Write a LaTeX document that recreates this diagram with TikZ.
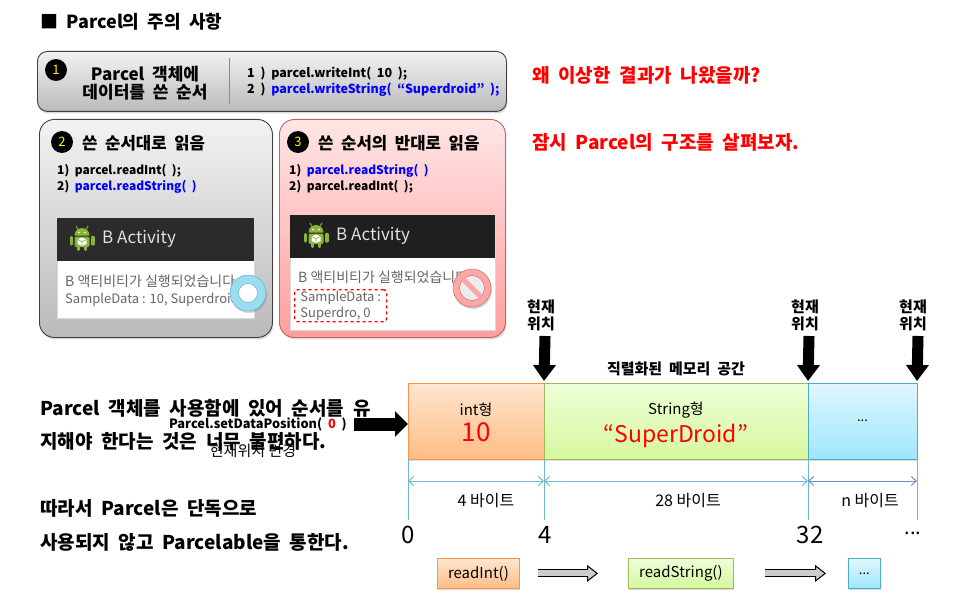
\documentclass[tikz,border=0pt]{standalone}
\usepackage{fontspec}
\setmainfont[BoldFeatures={WordSpace=2}]{Noto Sans CJK KR}
\usetikzlibrary{arrows.meta, positioning, shadows}
\definecolor{bluecode}{HTML}{0000FF}
\definecolor{panelline}{HTML}{404040}
\definecolor{pinkline}{HTML}{C8605C}
\definecolor{orangeline}{HTML}{F79646}
\definecolor{greenline}{HTML}{9BBB59}
\definecolor{skyline}{HTML}{4BACC6}
\definecolor{tickblue}{HTML}{6FBAD2}
\definecolor{slateblue}{HTML}{6F8FC4}
\definecolor{droidgreen}{HTML}{8DB33A}
\definecolor{orangetop}{HTML}{FFE5D0}
\definecolor{orangelow}{HTML}{FFBD85}
\definecolor{greentop}{HTML}{EEFFD8}
\definecolor{greenlow}{HTML}{D6F79E}
\definecolor{skytop}{HTML}{DFF6FF}
\definecolor{skylow}{HTML}{9FE6FB}
\definecolor{ringblue}{HTML}{9ADCF0}
\newcommand{\fsz}[2]{\fontsize{#1}{#2}\selectfont}

\tikzset{
	droid/.pic={
		\fill[droidgreen] (-7.5,-2.5) arc[start angle=180, end angle=360, radius=7.5] -- cycle;
		\fill[droidgreen, rounded corners=2pt] (-7.5,-1.5) rectangle (7.5,9);
		\draw[droidgreen, line width=3.4pt, line cap=round] (-10.8,-0.5) -- (-10.8,6);
		\draw[droidgreen, line width=3.4pt, line cap=round] (10.8,-0.5) -- (10.8,6);
		\draw[droidgreen, line width=3.2pt, line cap=round] (-3.2,9) -- (-3.2,11.5);
		\draw[droidgreen, line width=3.2pt, line cap=round] (3.2,9) -- (3.2,11.5);
		\draw[droidgreen, line width=.9pt] (-4,-8.5) -- (-6,-12);
		\draw[droidgreen, line width=.9pt] (4,-8.5) -- (6,-12);
		\fill[white] (-3,-5.5) circle (.9) (3,-5.5) circle (.9);
		\fill[white] (0,-.5) -- (4.5,1.5) -- (4.5,6) -- (0,8) -- (-4.5,6) -- (-4.5,1.5) -- cycle;
		\draw[droidgreen, line width=.7pt] (-4.5,1.5) -- (0,3.6) -- (4.5,1.5) (0,3.6) -- (0,8);
	}
}

\begin{document}
\begin{tikzpicture}[
		x=1pt, y=-1pt,
		font=\fsz{14}{17},
		panel/.style={draw=panelline, line width=.9pt, anchor=north west, top color=black!5, bottom color=black!27,
			drop shadow={shadow xshift=1pt, shadow yshift=-2pt, opacity=.3}},
		redpanel/.style={panel, draw=pinkline, top color=red!10, bottom color=red!38},
		badge/.style={circle, fill=black, text=yellow, minimum size=22pt, inner sep=0pt, font=\fsz{13}{13}},
		head/.style={anchor=west, inner sep=0pt, font=\fsz{16.7}{20}\bfseries},
		code/.style={anchor=north west, inner sep=0pt, align=left, font=\fsz{12}{16}\bfseries},
		screen/.style={anchor=north west, fill=white, draw=black!15, inner sep=0pt, minimum width=#1},
		bar/.style={anchor=north west, inner sep=0pt, minimum width=#1, text=black!12, font=\fsz{17}{20}},
		msg/.style={anchor=west, inner sep=0pt, text=black!60, font=\fsz{13}{16}},
		redtext/.style={anchor=west, inner sep=0pt, text=red, font=\fsz{19}{22}\bfseries},
		lefttext/.style={anchor=west, inner sep=0pt, font=\fsz{19}{22}\bfseries},
		cell/.style={anchor=north west, outer sep=0pt, inner sep=0pt, align=center, minimum height=76pt,
			line width=.8pt, drop shadow={shadow xshift=0pt, shadow yshift=-2pt, opacity=.25}},
		orangecell/.style={draw=orangeline, top color=orangetop, bottom color=orangelow},
		greencell/.style={draw=greenline, top color=greentop, bottom color=greenlow},
		skycell/.style={draw=skyline, top color=skytop, bottom color=skylow},
		poslabel/.style={align=center, inner sep=0pt, font=\fsz{15}{17}\bfseries},
		posarrow/.style={line width=11pt, -{Triangle[length=16pt, width=22pt]}},
		tick/.style={line width=1pt, tickblue},
		dim/.style={{Straight Barb[length=5pt, width=9pt]}-{Straight Barb[length=5pt, width=9pt]}, line width=1pt, tickblue},
		dimtext/.style={inner sep=0pt, font=\fsz{16}{18}},
		offset/.style={inner sep=0pt, font=\fsz{24}{28}},
		readbox/.style={anchor=north west, inner sep=0pt, minimum height=30pt, line width=.8pt, font=\fsz{15}{18},
			drop shadow={shadow xshift=1pt, shadow yshift=-2pt, opacity=.3}},
		nextarrow/.style={line width=8pt, black, -{Triangle[length=11pt, width=17pt, fill=black!20, line width=1pt]},
			postaction={draw=black!20, line width=6pt, shorten >=6pt, -}}
	]
	\useasboundingbox (0,0) rectangle (957,604);

	\node[anchor=west, inner sep=0pt, font=\fsz{18}{22}\bfseries] (title) at (40,22) {■ Parcel의 주의 사항};

	% write order
	\node[panel, rounded corners=10pt, minimum width=469pt, minimum height=60pt] (writebox) at (37,51) {};
	\node[badge] (numone) at (56,70) {1};
	\node[align=center, inner sep=0pt, font=\fsz{17}{18}\bfseries] (writehead) at (145,83) {Parcel 객체에\\데이터를 쓴 순서};
	\draw[line width=.9pt, slateblue] (229,58) coordinate (divtop) -- (229,104) coordinate (divend);
	\node[code, font=\fsz{12.5}{16}\bfseries] (writecode) at (247,67) {1 ) parcel.writeInt( 10 );\\2 ) \textcolor{bluecode}{parcel.writeString( “Superdroid” );}};

	% same order
	\node[panel, rounded corners=15pt, minimum width=233pt, minimum height=218pt] (samebox) at (39,119) {};
	\node[badge] (numtwo) at (62,142) {2};
	\node[head] (samehead) at (82,143) {쓴 순서대로 읽음};
	\node[code] (samecode) at (57,164) {1) parcel.readInt( );\\2) \textcolor{bluecode}{parcel.readString( )}};
	\node[screen=197pt, minimum height=100pt] (samescreen) at (57,218) {};
	\node[bar=197pt, minimum height=43pt, fill=black!83] (samebar) at (57,218) {};
	\pic (samedroid) at (82,238) {droid};
	\node[anchor=west, inner sep=0pt, text=black!12, font=\fsz{17}{20}] (sametitle) at (102,239) {B Activity};
	\node[msg, font=\fsz{14}{16}] (samemsg) at (65,281) {B 액티비티가 실행되었습니다};
	\node[msg] (samedata) at (65,300) {SampleData : 10, Superdroid};
	\node[circle, minimum size=36pt, inner sep=0pt, draw=skyline, fill=ringblue,
		drop shadow={shadow xshift=1pt, shadow yshift=-2pt, opacity=.35}] (okmark) at (248,293) {};
	\node[circle, minimum size=19pt, inner sep=0pt, draw=skyline, fill=white] (okhole) at (okmark) {};

	% reverse order
	\node[redpanel, rounded corners=15pt, minimum width=226pt, minimum height=218pt] (revbox) at (279,119) {};
	\node[badge] (numthree) at (298,142) {3};
	\node[head] (revhead) at (318,143) {쓴 순서의 반대로 읽음};
	\node[code] (revcode) at (289,164) {1) \textcolor{bluecode}{parcel.readString( )}\\2) parcel.readInt( );};
	\node[screen=205pt, minimum height=115pt] (revscreen) at (290,215) {};
	\node[bar=205pt, minimum height=43pt, fill=black!88] (revbar) at (290,215) {};
	\pic (revdroid) at (316,235) {droid};
	\node[anchor=west, inner sep=0pt, text=black!12, font=\fsz{17}{20}] (revtitle) at (336,236) {B Activity};
	\node[msg, font=\fsz{14}{16}] (revmsg) at (298,277) {B 액티비티가 실행되었습니다.};
	\node[anchor=north west, draw=red, dashed, line width=1.4pt, rounded corners=3pt, minimum width=92pt, minimum height=32pt,
		inner xsep=2pt, inner ysep=0pt, align=left, text=black!60, font=\fsz{13}{16}] (revdata) at (294,289) {SampleData :\\Superdro, 0};
	\node[circle, minimum size=38pt, inner sep=0pt, draw=pinkline, fill=red!35,
		drop shadow={shadow xshift=1pt, shadow yshift=-2pt, opacity=.35}] (nomark) at (472,288) {};
	\node[circle, minimum size=25pt, inner sep=0pt, draw=pinkline, fill=black!7] (nohole) at (nomark) {};
	\draw[line width=5pt, red!35] (nohole.135) -- (nohole.-45);

	\node[redtext] (whytext) at (532,75) {왜 이상한 결과가 나왔을까?};
	\node[redtext] (looktext) at (532,142) {잠시 Parcel의 구조를 살펴보자.};

	% left notes
	\node[lefttext] (noteone) at (40,408) {Parcel 객체를 사용함에 있어 순서를 유};
	\node[lefttext] (notetwo) at (40,441) {지해야 한다는 것은 너무 불편하다.};
	\node[lefttext] (notethree) at (40,508) {따라서 Parcel은 단독으로};
	\node[lefttext] (notefour) at (40,542) {사용되지 않고 Parcelable을 통한다.};
	\node[inner sep=0pt, font=\fsz{12.8}{16}\bfseries] (setpos) at (258,424) {Parcel.setDataPosition( \textcolor{red}{0} )};
	\node[inner sep=0pt, font=\fsz{15}{17}] (setnote) at (253,451) {현재위치 변경};

	% memory
	\node[inner sep=0pt, font=\fsz{15}{17}\bfseries] (memhead) at (676,369) {직렬화된 메모리 공간};
	\node[cell, orangecell, minimum width=136pt] (cellint) at (408,383) {\fsz{15}{20}\rule{0pt}{20pt}int형\\[5pt]\fsz{26}{26}\textcolor{red}{10\vphantom{p}}};
	\node[cell, greencell, minimum width=264pt, right=0pt of cellint] (cellstr) {\fsz{15}{20}\rule{0pt}{20pt}String형\\[5pt]\fsz{23}{26}\textcolor{red}{“SuperDroid”}};
	\node[cell, skycell, minimum width=109pt, right=0pt of cellstr] (cellmore) {\fsz{13}{16}...};

	\node[poslabel] (posone) at (541,315) {현재\\위치};
	\node[poslabel] (postwo) at (805,315) {현재\\위치};
	\node[poslabel] (posthree) at (913,315) {현재\\위치};
	\coordinate (markone) at (545,336);
	\coordinate (marktwo) at (809,336);
	\coordinate (markthree) at (918,336);
	\draw[posarrow] (markone) -- ([yshift=2pt]cellint.north east);
	\draw[posarrow] (marktwo) -- ([yshift=2pt]cellstr.north east);
	\draw[posarrow] (markthree) -- ([yshift=2pt]cellmore.north east);

	\coordinate (pushstart) at (354,424);
	\draw[line width=13pt, -{Triangle[length=13pt, width=25pt]}] (pushstart) -- ([yshift=-3pt]cellint.west);

	\foreach \a/\b in {cellint.south west/tickzero, cellint.south east/tickfour, cellstr.south east/tickend, cellmore.south east/tickmore} {
		\coordinate (\b) at (\a |- 0,520);
		\draw[tick] (\a) -- (\b);
	}
	\coordinate (dimzero) at (tickzero |- 0,481);
	\coordinate (dimfour) at (tickfour |- 0,481);
	\coordinate (dimend) at (tickend |- 0,481);
	\coordinate (dimmore) at (tickmore |- 0,481);
	\draw[dim] (dimzero) -- (dimfour);
	\draw[dim] (dimfour) -- (dimend);
	\draw[dim, slateblue] (dimend) -- (dimmore);

	\node[dimtext] (sizeint) at (486,501) {4 바이트};
	\node[dimtext] (sizestr) at (688,501) {28 바이트};
	\node[dimtext] (sizemore) at (870,501) {n 바이트};

	\node[offset] (offzero) at (408,535) {0};
	\node[offset] (offfour) at (545,535) {4};
	\node[offset] (offend) at (810,535) {32};
	\node[offset, font=\fsz{20}{24}] (offmore) at (913,533) {...};

	% read calls
	\node[readbox, draw=orangeline, top color=orangetop, bottom color=orangelow, minimum width=82pt] (readint) at (437,558) {readInt()};
	\node[readbox, draw=greenline, top color=greentop, bottom color=greenlow, minimum width=105pt] (readstr) at (628,558) {readString()};
	\node[readbox, draw=skyline, top color=skytop, bottom color=skylow, minimum width=32pt, font=\fsz{13}{16}] (readmore) at (848,558) {...};
	\draw[nextarrow] ([xshift=18pt]readint.east) -- ([xshift=-30pt]readstr.west);
	\draw[nextarrow] ([xshift=31pt]readstr.east) -- ([xshift=-22pt]readmore.west);
\end{tikzpicture}
\end{document}
